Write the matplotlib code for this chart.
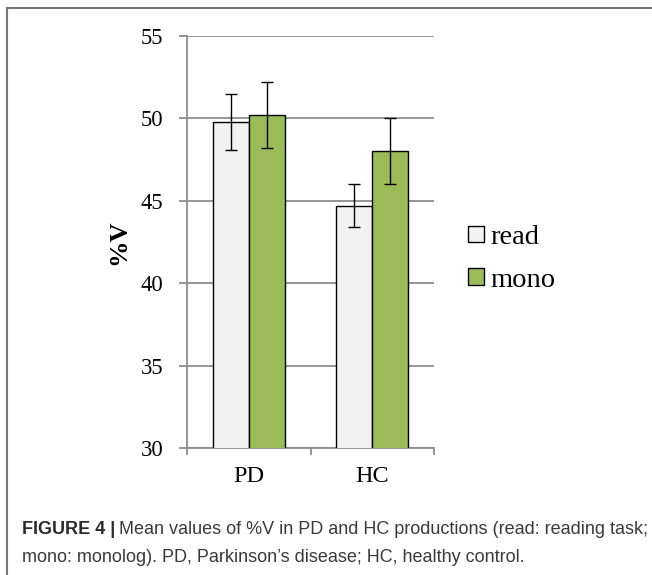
import matplotlib
matplotlib.use("Agg")
import matplotlib.pyplot as plt
from matplotlib.lines import Line2D
from matplotlib.patches import Patch
import numpy as np

categories = ["PD", "HC"]
read_vals = [49.8, 44.7]
read_err = [1.7, 1.3]
mono_vals = [50.2, 48.0]
mono_err = [2.0, 2.0]
yticks = [30, 35, 40, 45, 50, 55]

serif = ["Liberation Serif", "DejaVu Serif"]
W, H = 652, 575
fig = plt.figure(figsize=(W / 100, H / 100), dpi=100)
ax = fig.add_axes([187 / W, 1 - 448 / H, (434 - 187) / W, (448 - 36) / H])

x = np.arange(len(categories))
bw = 0.29
grid_c = "#8c8c8c"
ax.set_axisbelow(True)
ax.yaxis.grid(True, color=grid_c, linewidth=1.3)
ax.bar(x - bw / 2, read_vals, bw, color="#F2F2F2", edgecolor="black", linewidth=1.0,
       yerr=read_err, error_kw=dict(ecolor="black", elinewidth=1.0, capsize=4, capthick=1.0),
       label="read", zorder=3)
ax.bar(x + bw / 2, mono_vals, bw, color="#9BBB59", edgecolor="black", linewidth=1.0,
       yerr=mono_err, error_kw=dict(ecolor="black", elinewidth=1.0, capsize=4, capthick=1.0),
       label="mono", zorder=3)

ax.set_xlim(-0.5, 1.5)
ax.set_ylim(30, 55)
ax.set_yticks(yticks)
ax.set_yticklabels([str(v) for v in yticks], fontfamily=serif, fontsize=16.3)
ax.set_xticks(x)
ax.set_xticklabels(categories, fontfamily=serif, fontsize=17.5)
ax.set_xticks([-0.5, 0.5, 1.5], minor=True)
ax.tick_params(axis="x", which="major", length=0, pad=13)
ax.tick_params(axis="x", which="minor", length=5, width=1.3, color=grid_c)
ax.tick_params(axis="y", length=5.5, width=1.3, color=grid_c, pad=11.5)
for s in ["top", "right"]:
    ax.spines[s].set_visible(False)
for s in ["left", "bottom"]:
    ax.spines[s].set_color(grid_c)
    ax.spines[s].set_linewidth(1.3)
fig.text(119 / W, 1 - 242 / H, "%V", fontfamily=serif, fontsize=19, fontweight="bold",
         rotation=90, ha="center", va="center")

handles = [Patch(facecolor="#F2F2F2", edgecolor="black", linewidth=1.0, label="read"),
           Patch(facecolor="#9BBB59", edgecolor="black", linewidth=1.0, label="mono")]
fig.legend(handles=handles, loc="center left", bbox_to_anchor=(468 / W, 1 - 259 / H),
           frameon=False, prop={"family": serif, "size": 20.5}, handlelength=0.55,
           handleheight=0.53, handletextpad=0.25, labelspacing=0.63, borderpad=0,
           borderaxespad=0)

# figure frame
fig.add_artist(Line2D([7 / W, 7 / W], [0, 1 - 8 / H], color="#777777", linewidth=1.5))
fig.add_artist(Line2D([7 / W, 1], [1 - 8 / H, 1 - 8 / H], color="#777777", linewidth=1.5))

sans = ["Liberation Sans", "DejaVu Sans"]
cap_y1 = 1 - 530 / H
cap_y2 = 1 - 557 / H
t1 = fig.text(22 / W, cap_y1, "FIGURE 4 |", fontfamily=sans, fontsize=13, fontweight="bold",
              color="#2b2b2b", va="center", ha="left")
fig.canvas.draw()
bb = t1.get_window_extent()
fig.text((bb.x1 + 4) / W, cap_y1, "Mean values of %V in PD and HC productions (read: reading task;",
         fontfamily=sans, fontsize=13, color="#3a3a3a", va="center", ha="left")
fig.text(22 / W, cap_y2, "mono: monolog). PD, Parkinson\u2019s disease; HC, healthy control.",
         fontfamily=sans, fontsize=13, color="#3a3a3a", va="center", ha="left")

fig.savefig("out.png", dpi=100)
